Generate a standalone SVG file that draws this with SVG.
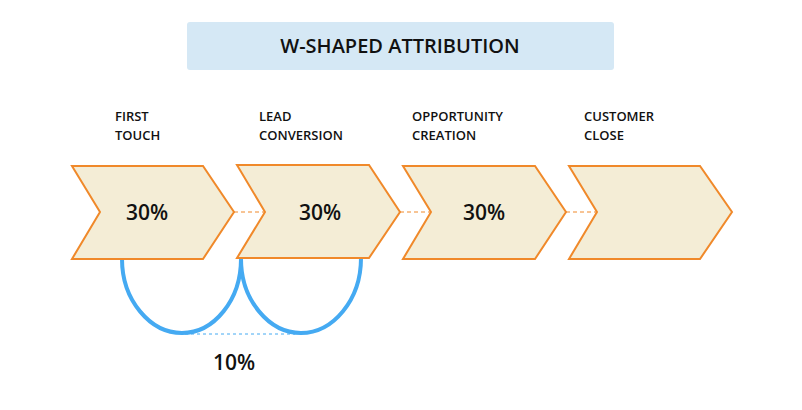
<svg xmlns="http://www.w3.org/2000/svg" width="802" height="410" viewBox="0 0 802 410">
<style>
.chev{fill:#f4edd6;stroke:#f0892a;stroke-width:2}
.lbl{font-family:"Open Sans",sans-serif;font-size:13px;font-weight:600;fill:#111}
.pct{font-family:"Open Sans",sans-serif;font-size:21px;font-weight:600;fill:#111;text-anchor:middle}
.dash{stroke:#f0892a;stroke-width:1;stroke-dasharray:4 3;fill:none}
.loop{stroke:#45aaf2;stroke-width:4;fill:none}
</style>
<rect width="802" height="410" fill="#fff"/>
<g id="title">
<rect x="187" y="22" width="427" height="48" rx="3" fill="#d5e8f5"/>
<text x="400" y="53" font-family="Open Sans,sans-serif" font-size="20" font-weight="600" text-anchor="middle" fill="#111">W-SHAPED ATTRIBUTION</text>
</g>
<g id="connectors">
<line class="dash" x1="234" y1="212" x2="265" y2="212"/>
<line class="dash" x1="400" y1="212" x2="431" y2="212"/>
<line class="dash" x1="566" y1="212" x2="597" y2="212"/>
<path class="loop" d="M122,259 C122,300 150,333 182,333 C214,333 241,300 241,259"/>
<path class="loop" d="M241,259 C241,300 269,333 301,333 C333,333 361,300 361,258"/>
<line x1="185" y1="334" x2="295" y2="334" stroke="#45aaf2" stroke-width="1" stroke-dasharray="3 3"/>
<text class="pct" x="234" y="370">10%</text>
</g>
<g id="first-touch">
<polygon class="chev" points="72,166 203,166 234,212 203,259 72,259 100,212"/>
<text class="pct" x="147" y="220">30%</text>
<text class="lbl" x="115" y="121">FIRST</text><text class="lbl" x="115" y="140">TOUCH</text>
</g>
<g id="lead-conversion">
<polygon class="chev" points="237,165 369,165 400,212 369,258 237,258 265,212"/>
<text class="pct" x="320" y="220">30%</text>
<text class="lbl" x="259" y="121">LEAD</text><text class="lbl" x="259" y="140">CONVERSION</text>
</g>
<g id="opportunity-creation">
<polygon class="chev" points="403,166 535,166 566,212 535,259 403,259 431,212"/>
<text class="pct" x="484" y="220">30%</text>
<text class="lbl" x="412" y="121">OPPORTUNITY</text><text class="lbl" x="412" y="140">CREATION</text>
</g>
<g id="customer-close">
<polygon class="chev" points="569,166 700,166 732,212 700,259 569,259 597,212"/>
<text class="lbl" x="584" y="121">CUSTOMER</text><text class="lbl" x="584" y="140">CLOSE</text>
</g>
</svg>
